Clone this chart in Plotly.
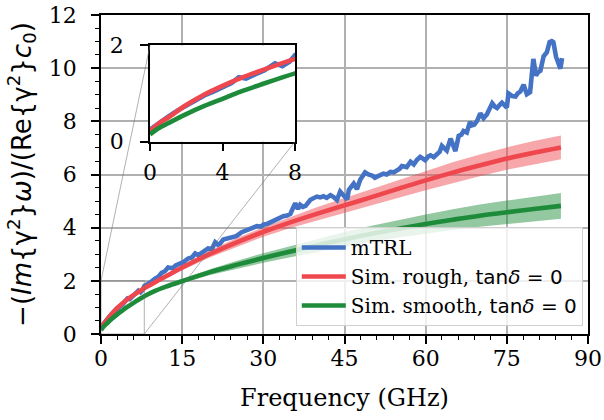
import plotly.graph_objects as go

# ---------------- data ----------------
blue_f = [0.0, 0.5, 1.0, 1.5, 2.0, 2.5, 3.0, 3.5, 4.0, 4.5, 4.9, 5.3, 5.8, 6.3, 6.9, 7.3, 7.7, 8.0,
          8.6, 9.2, 10.0, 10.6, 11.2, 11.8, 12.4, 13.2, 13.8, 14.3, 15.2, 16.1, 16.8, 17.4, 18.0,
          18.6, 19.2, 19.8, 20.5, 21.1, 21.6, 22.0, 22.6, 23.2, 24.1, 25.0, 26.0, 26.6, 27.2, 28.0,
          28.8, 29.5, 30.1, 30.7, 31.3, 31.9, 32.5, 33.1, 33.7, 34.4, 35.0, 35.5, 35.9, 36.4, 36.8,
          37.3, 37.8, 38.7, 39.3, 39.9, 40.5, 41.1, 41.7, 42.4, 43.0, 43.6, 44.2, 44.8, 45.5, 45.8,
          46.3, 46.7, 47.3, 47.9, 48.8, 49.4, 50.1, 50.6, 51.0, 51.6, 52.2, 52.8, 53.5, 54.1, 54.7,
          55.2, 55.6, 56.1, 56.5, 57.2, 57.8, 58.4, 59.0, 59.5, 59.9, 60.5, 60.9, 61.5, 62.1, 62.6,
          63.0, 63.5, 63.9, 64.6, 65.0, 65.5, 66.1, 66.6, 67.0, 67.6, 68.2, 68.6, 69.0, 69.5, 70.1,
          70.7, 71.3, 71.8, 72.3, 72.8, 73.2, 73.7, 74.1, 74.6, 75.0, 75.3, 75.7, 76.0, 76.6, 77.0,
          77.5, 78.1, 78.7, 79.3, 79.9, 80.4, 80.8, 81.2, 81.8, 82.4, 82.9, 83.3, 83.6, 84.1, 84.6,
          84.9, 85.2]
blue_v = [0.25, 0.40, 0.52, 0.64, 0.75, 0.86, 0.96, 1.04, 1.12, 1.22, 1.34, 1.31, 1.40, 1.48, 1.63, 1.57, 1.66, 1.80,
          1.86, 1.95, 2.08, 2.15, 2.30, 2.36, 2.50, 2.47, 2.58, 2.63, 2.70, 2.84, 2.88, 3.03, 2.96,
          3.05, 3.12, 3.22, 3.20, 3.45, 3.36, 3.40, 3.55, 3.58, 3.65, 3.68, 3.83, 3.88, 3.96, 3.98,
          4.06, 4.04, 4.12, 4.14, 4.20, 4.22, 4.32, 4.36, 4.43, 4.46, 4.52, 4.75, 4.92, 4.70, 4.86,
          4.78, 4.82, 5.05, 5.10, 5.17, 5.14, 5.18, 5.12, 5.22, 5.15, 5.04, 5.36, 5.20, 5.06, 5.42,
          5.60, 5.66, 5.45, 5.80, 6.08, 6.00, 5.96, 5.88, 5.92, 5.96, 6.03, 6.00, 6.10, 6.08, 6.15,
          6.22, 6.32, 6.30, 6.28, 6.48, 6.38, 6.55, 6.66, 6.60, 6.54, 6.68, 6.72, 6.65, 6.80, 6.86,
          7.08, 6.98, 6.90, 7.35, 7.10, 6.88, 7.45, 7.50, 7.64, 7.58, 7.98, 7.85, 7.88, 8.02, 8.30,
          8.12, 8.26, 8.45, 8.68, 8.55, 8.50, 8.62, 8.70, 8.60, 8.52, 9.05, 9.00, 8.95, 8.93, 9.05,
          9.12, 9.38, 9.02, 9.10, 10.35, 9.72, 9.85, 9.90, 10.45, 10.60, 10.98, 11.02, 10.98, 10.42, 10.15,
          9.98, 10.38]

sim_f = [0, 0.5, 1, 2, 3, 4, 5, 6, 8, 10, 12, 15, 20, 25, 30, 35, 40, 45, 50, 55, 60, 65, 70, 75, 80, 85]
rough_v = [0.22, 0.38, 0.50, 0.76, 0.98, 1.16, 1.32, 1.46, 1.72, 1.95, 2.17, 2.50, 3.00, 3.44, 3.84, 4.20,
           4.53, 4.84, 5.15, 5.47, 5.78, 6.07, 6.34, 6.60, 6.82, 7.02]
rough_hi = [0.22, 0.39, 0.51, 0.78, 1.00, 1.19, 1.35, 1.50, 1.77, 2.01, 2.25, 2.60, 3.13, 3.60, 4.02, 4.41,
            4.78, 5.12, 5.46, 5.81, 6.15, 6.46, 6.75, 7.02, 7.26, 7.47]
rough_lo = [0.22, 0.37, 0.49, 0.74, 0.96, 1.13, 1.29, 1.42, 1.67, 1.89, 2.09, 2.40, 2.87, 3.28, 3.66, 3.99,
            4.28, 4.56, 4.84, 5.13, 5.41, 5.68, 5.93, 6.18, 6.38, 6.57]
smooth_v = [0.15, 0.28, 0.38, 0.57, 0.74, 0.89, 1.04, 1.17, 1.42, 1.62, 1.78, 1.99, 2.32, 2.60, 2.86, 3.10,
            3.34, 3.56, 3.77, 3.96, 4.14, 4.30, 4.45, 4.58, 4.70, 4.82]
smooth_hi = [0.15, 0.28, 0.39, 0.58, 0.75, 0.91, 1.06, 1.20, 1.46, 1.67, 1.84, 2.07, 2.43, 2.75, 3.04, 3.31,
             3.59, 3.84, 4.07, 4.29, 4.50, 4.69, 4.87, 5.02, 5.16, 5.30]
smooth_lo = [0.15, 0.28, 0.37, 0.56, 0.73, 0.87, 1.02, 1.14, 1.38, 1.57, 1.72, 1.91, 2.21, 2.45, 2.68, 2.89,
             3.09, 3.28, 3.47, 3.63, 3.78, 3.91, 4.03, 4.14, 4.24, 4.34]

names = ["mTRL",
         "Sim. rough, <span style='font-family:DejaVu Sans'>tan<i>δ</i> = 0</span>",
         "Sim. smooth, <span style='font-family:DejaVu Sans'>tan<i>δ</i> = 0</span>"]
x_ticks = [0, 15, 30, 45, 60, 75, 90]
y_ticks = [0, 2, 4, 6, 8, 10, 12]
inset_x_ticks = [0, 4, 8]
inset_y_ticks = [0, 2]
zoom_box = (0, 8, 0, 2)  # x0, x1, y0, y1 of the inset region

# ---------------- style ----------------
BLUE = "#4472c4"
RED = "#ee474e"
GREEN = "#1e8b3b"
RED_BAND = "rgba(238,71,78,0.48)"
GREEN_BAND = "rgba(30,139,59,0.48)"
SERIF = "DejaVu Serif"
FS = 22
LW = 4.6

fig = go.Figure()


def add_series(xa, ya, show):
    fig.add_trace(go.Scatter(x=sim_f + sim_f[::-1], y=rough_hi + rough_lo[::-1], fill="toself",
                             fillcolor=RED_BAND, line=dict(width=0), mode="lines", hoverinfo="skip",
                             showlegend=False, xaxis=xa, yaxis=ya))
    fig.add_trace(go.Scatter(x=sim_f + sim_f[::-1], y=smooth_hi + smooth_lo[::-1], fill="toself",
                             fillcolor=GREEN_BAND, line=dict(width=0), mode="lines", hoverinfo="skip",
                             showlegend=False, xaxis=xa, yaxis=ya))
    fig.add_trace(go.Scatter(x=blue_f, y=blue_v, mode="lines", name=names[0],
                             line=dict(color=BLUE, width=LW), showlegend=show, xaxis=xa, yaxis=ya))
    fig.add_trace(go.Scatter(x=sim_f, y=rough_v, mode="lines", name=names[1],
                             line=dict(color=RED, width=LW, shape="spline"), showlegend=show,
                             xaxis=xa, yaxis=ya))
    fig.add_trace(go.Scatter(x=sim_f, y=smooth_v, mode="lines", name=names[2],
                             line=dict(color=GREEN, width=LW, shape="spline"), showlegend=show,
                             xaxis=xa, yaxis=ya))


add_series("x", "y", True)
add_series("x2", "y2", False)

# full-window figure (the page's default body margin is removed in post_script)
W, H = 604, 420
L, R, T, B = 101, 16, 15, 86
ix = [0.1006, 0.3984]
iy = [0.6034, 0.9044]

axis_common = dict(showline=True, linecolor="black", linewidth=1.8, mirror=True,
                   ticks="outside", tickcolor="black", tickwidth=1.6, automargin=False,
                   ticklabeloverflow="allow",
                   tickfont=dict(family=SERIF, size=FS, color="black"))

fig.update_layout(
    width=W, height=H,
    margin=dict(l=L, r=R, t=T, b=B, autoexpand=False),
    paper_bgcolor="white", plot_bgcolor="white",
    xaxis=dict(range=[0, 90], tickvals=x_ticks, ticklen=8, showgrid=True, gridcolor="#b0b0b0",
               gridwidth=1.6, zeroline=False, ticklabelstandoff=-4,
               minor=dict(dtick=3, tick0=0, ticklen=4.5, tickwidth=1.4, tickcolor="black",
                          ticks="outside", showgrid=False),
               title=dict(text="Frequency (GHz)", font=dict(family=SERIF, size=24, color="black"),
                          standoff=19),
               **axis_common),
    yaxis=dict(range=[0, 12], tickvals=y_ticks, ticklen=8, showgrid=True, gridcolor="#b0b0b0",
               gridwidth=1.6, zeroline=False, ticklabelstandoff=10,
               minor=dict(dtick=0.5, tick0=0, ticklen=4.5, tickwidth=1.4, tickcolor="black",
                          ticks="outside", showgrid=False),
               title=dict(text="−(<i>Im</i>{γ<sup>2</sup>}<i>ω</i>)/(Re{γ<sup>2</sup>}<i>c</i><sub>0</sub>)",
                          font=dict(family="DejaVu Sans", size=26, color="black"), standoff=10),
               **axis_common),
    xaxis2=dict(domain=ix, anchor="y2", range=[0, 8], tickvals=inset_x_ticks, ticklen=8,
                showgrid=False, zeroline=False, ticklabelstandoff=2, **axis_common),
    yaxis2=dict(domain=iy, anchor="x2", range=[0, 2], tickvals=inset_y_ticks, ticklen=8,
                showgrid=False, zeroline=False, ticklabelstandoff=12, **axis_common),
    legend=dict(x=0.400, y=0.3354, xanchor="left", yanchor="top", itemwidth=44,
                bgcolor="rgba(255,255,255,0.8)", bordercolor="#d0d0d0", borderwidth=1,
                font=dict(family=SERIF, size=20, color="black"), tracegroupgap=0),
)

# white background of the inset (hides main gridlines)
fig.add_shape(type="rect", xref="x2", yref="y2", x0=0, x1=8, y0=0, y1=2,
              fillcolor="white", line=dict(width=0), layer="below")

# zoom indicator rectangle and connector lines
ind = dict(color="rgba(110,110,110,0.6)", width=0.9)
x0, x1, y0, y1 = zoom_box
fig.add_shape(type="rect", xref="x", yref="y", x0=x0, x1=x1, y0=y0, y1=y1, line=ind,
              fillcolor="rgba(0,0,0,0)", layer="above")
fig.add_shape(type="line", xref="paper", yref="paper", x0=x0 / 90, y0=y1 / 12, x1=ix[0], y1=iy[1],
              line=ind, layer="above")
fig.add_shape(type="line", xref="paper", yref="paper", x0=x1 / 90, y0=y0 / 12, x1=ix[1], y1=iy[0],
              line=ind, layer="above")

fig.write_html("out.html", config={"displayModeBar": False},
               post_script="document.body.style.margin='0px';")
